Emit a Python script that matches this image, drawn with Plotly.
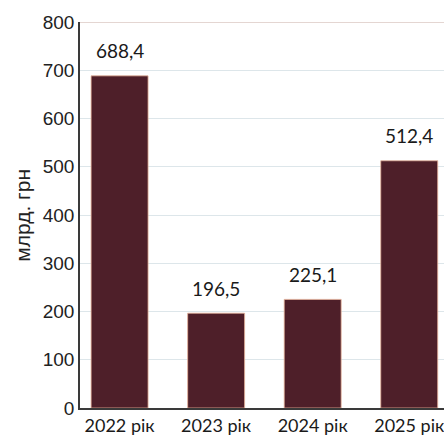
import plotly.graph_objects as go

years = ["2022 рік", "2023 рік", "2024 рік", "2025 рік"]
values = [688.4, 196.5, 225.1, 512.4]
labels = ["688,4", "196,5", "225,1", "512,4"]
y_ticks = [0, 100, 200, 300, 400, 500, 600, 700, 800]

bar_color = "#4e1f29"
label_font = "Lato, Carlito, 'Open Sans', sans-serif"
tick_font = "'Liberation Sans', Arial, sans-serif"

fig = go.Figure()
fig.add_trace(go.Bar(
    x=years,
    y=values,
    width=0.59,
    marker=dict(color=bar_color, line=dict(color="#e8b49a", width=0.8)),
    hoverinfo="skip",
))

for yr, v, t in zip(years, values, labels):
    fig.add_annotation(x=yr, y=v, text=t, showarrow=False, yshift=25,
                       font=dict(family=label_font, size=19, color="#1a1a1a"))

# y-axis title, set close to the tick labels
fig.add_annotation(xref="paper", yref="paper", x=-0.16, y=0.50,
                   xanchor="center", yanchor="middle", text="млрд. грн",
                   textangle=-90, showarrow=False,
                   font=dict(family=tick_font, size=21, color="#222222"))

# top frame line
fig.add_shape(type="line", xref="paper", yref="y", x0=0, x1=1, y0=800, y1=800,
              line=dict(color="#c9aea6", width=1.2))

fig.update_layout(
    width=444, height=438,
    margin=dict(l=80, r=0, t=22, b=30),
    paper_bgcolor="white", plot_bgcolor="white",
    showlegend=False,
    xaxis=dict(
        type="category", range=[-0.41, 3.36],
        showline=True, linecolor="#3a3a3a", linewidth=2,
        showgrid=False, ticks="",
        tickfont=dict(family=label_font, size=18, color="#1a1a1a"),
    ),
    yaxis=dict(
        range=[0, 800], tickvals=y_ticks,
        showline=True, linecolor="#3a3a3a", linewidth=1.5,
        showgrid=True, gridcolor="#dde6ea", gridwidth=1,
        zeroline=False, ticks="",
        tickfont=dict(family=tick_font, size=19, color="#222222"),
    ),
)

fig.write_html("out.html")
